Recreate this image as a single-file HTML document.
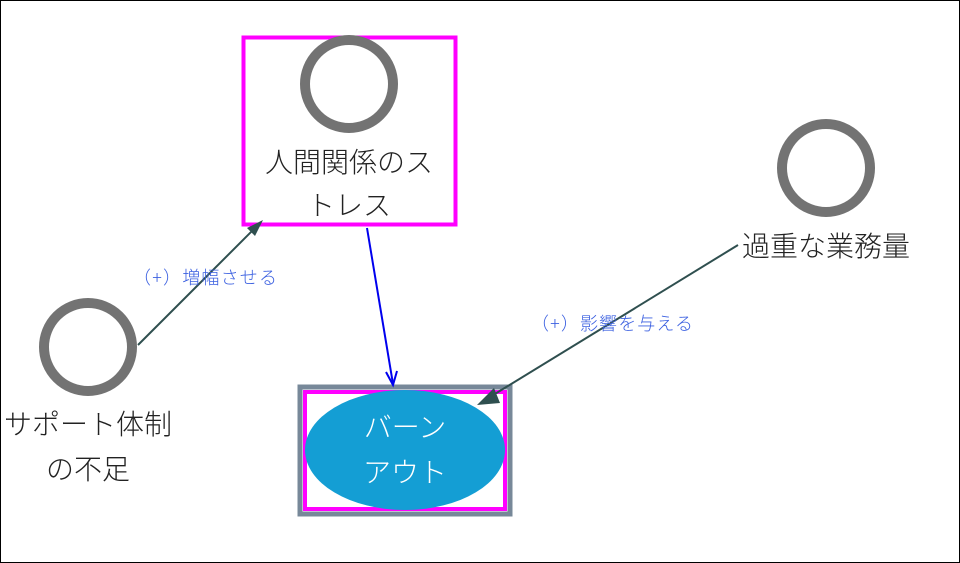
<!DOCTYPE html>
<html><head><meta charset="utf-8"><style>
body{margin:0;background:#fff}
svg{display:block}
text{font-family:"Noto Sans CJK JP",sans-serif;font-weight:300}
</style></head><body>
<svg width="960" height="563" viewBox="0 0 960 563">
<rect x="0.5" y="0.5" width="959" height="562" fill="#fff" stroke="#000" stroke-width="1"/>
<rect x="243.5" y="37.5" width="212" height="187" fill="none" stroke="#ff00ff" stroke-width="4"/>
<circle cx="349" cy="84" r="44" fill="none" stroke="#737373" stroke-width="10"/>
<text x="349" y="172" font-size="28" fill="#222" text-anchor="middle">人間関係のス</text>
<text x="349" y="215" font-size="28" fill="#222" text-anchor="middle">トレス</text>
<circle cx="826" cy="168" r="44" fill="none" stroke="#737373" stroke-width="10"/>
<text x="826" y="256" font-size="28" fill="#222" text-anchor="middle">過重な業務量</text>
<circle cx="88" cy="347" r="44" fill="none" stroke="#737373" stroke-width="10"/>
<text x="88" y="434" font-size="28" fill="#222" text-anchor="middle">サポート体制</text>
<text x="88" y="479" font-size="28" fill="#222" text-anchor="middle">の不足</text>
<rect x="300" y="387" width="210" height="127" fill="#fff" stroke="#778899" stroke-width="5"/>
<rect x="305" y="392" width="200" height="117" fill="none" stroke="#ff00ff" stroke-width="4"/>
<ellipse cx="405" cy="450" rx="100" ry="60" fill="#149ed4"/>
<text x="405" y="437" font-size="28" fill="#fff" text-anchor="middle">バーン</text>
<text x="405" y="482" font-size="28" fill="#fff" text-anchor="middle">アウト</text>
<g fill="none" stroke-width="2">
<line x1="138" y1="345" x2="258" y2="225" stroke="#2f4f4f"/>
<path d="M263,220 L247,228 L255,236 z" fill="#2f4f4f" stroke="none"/>
<line x1="367" y1="228" x2="393" y2="384" stroke="#0000ee"/>
<path d="M386,372 L393,385 L397,371" stroke="#0000ee"/>
<line x1="738" y1="245" x2="490" y2="397" stroke="#2f4f4f"/>
<path d="M477,405 L494,388 L500,403 z" fill="#2f4f4f" stroke="none"/>
</g>
<text x="205" y="284" font-size="18" font-weight="400" fill="#3a5fe0" text-anchor="middle" textLength="144" lengthAdjust="spacing">（+）増幅させる</text>
<text x="612" y="330" font-size="18" font-weight="400" fill="#3a5fe0" text-anchor="middle" textLength="162" lengthAdjust="spacing">（+）影響を与える</text>
</svg>
</body></html>
